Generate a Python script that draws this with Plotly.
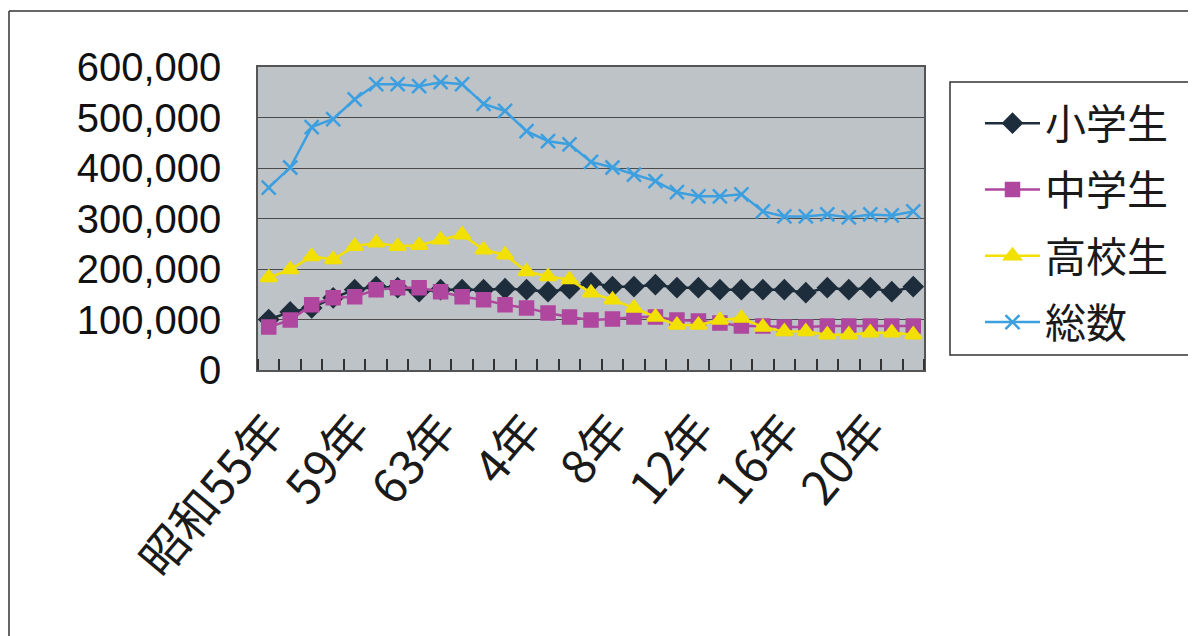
import plotly.graph_objects as go

categories = ["昭和55年", "56年", "57年", "58年", "59年", "60年", "61年", "62年", "63年",
              "元年", "2年", "3年", "4年", "5年", "6年", "7年", "8年", "9年", "10年", "11年",
              "12年", "13年", "14年", "15年", "16年", "17年", "18年", "19年", "20年", "21年", "22年"]

shougakusei = [100000, 115000, 123000, 143000, 159000, 165000, 163000, 155000, 159000, 159000,
               159000, 161000, 159000, 155000, 161000, 173000, 165000, 165000, 169000, 163000,
               163000, 159000, 159000, 159000, 159000, 153000, 163000, 159000, 163000, 155000, 165000]
chuugakusei = [85000, 99000, 129000, 143000, 145000, 159000, 163000, 163000, 155000, 145000,
               139000, 129000, 123000, 113000, 105000, 99000, 101000, 105000, 105000, 99000,
               97000, 93000, 87000, 87000, 85000, 85000, 87000, 87000, 87000, 87000, 87000]
koukousei = [183000, 199000, 225000, 219000, 245000, 252000, 245000, 247000, 258000, 268000,
             238000, 228000, 195000, 185000, 179000, 153000, 139000, 123000, 105000, 89000,
             89000, 99000, 103000, 85000, 76000, 76000, 70000, 70000, 74000, 74000, 70000]
sousuu = [361000, 401000, 481000, 497000, 536000, 566000, 566000, 562000, 570000, 566000,
          527000, 513000, 473000, 453000, 447000, 412000, 401000, 387000, 374000, 352000,
          344000, 344000, 348000, 314000, 304000, 304000, 308000, 302000, 308000, 306000, 314000]

series_names = ["小学生", "中学生", "高校生", "総数"]
tick_step = 4
y_ticks = [0, 100000, 200000, 300000, 400000, 500000, 600000]

xs = list(range(len(categories)))

fig = go.Figure()
styles = [
    dict(color="#1E2D3C", symbol="diamond", size=14, lw=2.5, data=shougakusei),
    dict(color="#B0479F", symbol="square", size=13, lw=2.5, data=chuugakusei),
    dict(color="#F2E000", symbol="triangle-up", size=14, lw=2.5, data=koukousei),
    dict(color="#3C9FE0", symbol="x-thin", size=14, lw=2.5, data=sousuu),
]
for name, s in zip(series_names, styles):
    fig.add_trace(go.Scatter(
        x=xs, y=s["data"], name=name, mode="lines+markers",
        legendgroup=name,
        line=dict(color=s["color"], width=s["lw"]),
        marker=dict(symbol=s["symbol"], size=s["size"], color=s["color"],
                    line=dict(color=s["color"], width=2.5)),
    ))

# page offset (body margin of the html page)
OFF = 8
W, H = 1196, 636
# plot area in page pixels
PL, PR, PT, PB = 258, 924, 67, 370
L, R, T, B = PL - OFF, PR - OFF, PT - OFF, PB - OFF
pw, ph = R - L, B - T

def px_x(p):
    return (p - PL) / pw

def px_y(p):
    return (PB - p) / ph

fig.update_layout(
    width=W, height=H,
    margin=dict(l=L, r=W - R, t=T, b=H - B, autoexpand=False),
    paper_bgcolor="white",
    plot_bgcolor="#BEC3C7",
    font=dict(family="Noto Sans CJK JP", color="#1A1A1A"),
    showlegend=True,
    legend=dict(
        x=px_x(980), y=px_y(90), xanchor="left", yanchor="top",
        bgcolor="rgba(0,0,0,0)", borderwidth=0,
        font=dict(size=41, family="Noto Sans CJK JP", color="#1A1A1A"),
        traceorder="grouped", tracegroupgap=10, itemwidth=55,
    ),
    xaxis=dict(
        range=[-0.5, len(categories) - 0.5],
        tickmode="array",
        tickvals=xs[::tick_step],
        ticktext=categories[::tick_step],
        tickangle=-50,
        ticks="",
        ticklabelstandoff=12,
        showgrid=False, zeroline=False,
        showline=True, linecolor="#555555", linewidth=1.5, mirror=True,
        tickfont=dict(size=47, family="Noto Sans CJK JP", color="#1A1A1A"),
        minor=dict(ticks="inside", dtick=1, tick0=-0.5, ticklen=11,
                   tickcolor="#333333", tickwidth=1.5, showgrid=False),
    ),
    yaxis=dict(
        range=[0, 600000],
        tickmode="array",
        tickvals=y_ticks,
        ticktext=[f"{v:,}" for v in y_ticks],
        showgrid=True, gridcolor="#4A4A4A", gridwidth=1.3,
        zeroline=False,
        showline=True, linecolor="#555555", linewidth=1.5, mirror=True,
        ticks="", ticklabelstandoff=27,
        tickfont=dict(size=40, family="Liberation Sans", color="#111111"),
    ),
    shapes=[
        dict(type="line", xref="paper", yref="paper",
             x0=px_x(9), x1=px_x(9), y0=px_y(11), y1=px_y(660),
             line=dict(color="#333333", width=1.5)),
        dict(type="line", xref="paper", yref="paper",
             x0=px_x(9), x1=px_x(1220), y0=px_y(11), y1=px_y(11),
             line=dict(color="#333333", width=1.5)),
        dict(type="rect", xref="paper", yref="paper",
             x0=px_x(950), x1=px_x(1230), y0=px_y(82), y1=px_y(355),
             line=dict(color="#333333", width=1.5), fillcolor="white", layer="below"),
    ],
)

fig.write_html("out.html")
